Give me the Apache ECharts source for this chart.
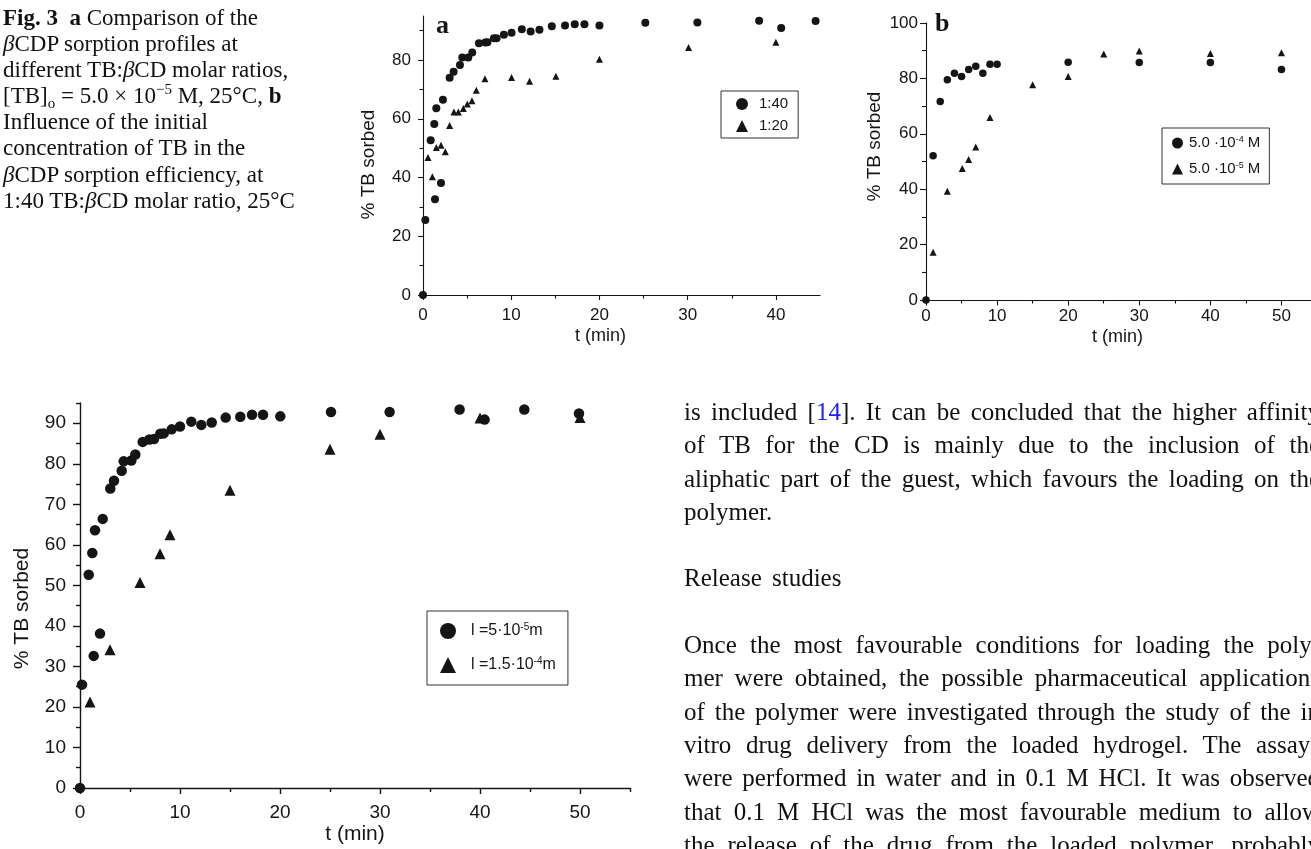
<!DOCTYPE html>
<html>
<head>
<meta charset="utf-8">
<script src="https://cdn.jsdelivr.net/npm/echarts@6/dist/echarts.min.js"></script>
<style>
  html, body { margin:0; padding:0; width:1311px; height:849px; overflow:hidden; background:#fff; }
  #chart { position:absolute; left:0; top:0; width:1311px; height:849px; }
  #caption { position:absolute; left:3px; top:5px; font-family:'Liberation Serif','Times New Roman',serif; font-size:23px; line-height:26.1px; color:#111; white-space:nowrap; }
  #caption .sup, #caption .sub { font-size:15px; line-height:0; position:relative; vertical-align:baseline; }
  #caption .sup { top:-9px; }
  #caption .sub { top:5px; }
  #body { position:absolute; left:684px; top:395px; width:636px; font-family:'Liberation Serif','Times New Roman',serif; font-size:25px; line-height:33.3px; color:#111; }
  #body .j { white-space:nowrap; text-align:justify; text-align-last:justify; }
  #body .l { white-space:nowrap; }
  .ref { color:#2020ff; }
  b { font-weight:bold; }
</style>
</head>
<body>
<div id="chart"></div>
<div id="caption">
  <div><b>Fig. 3</b>&nbsp; <b>a</b> Comparison of the</div>
  <div><i>β</i>CDP sorption profiles at</div>
  <div>different TB:<i>β</i>CD molar ratios,</div>
  <div>[TB]<span class="sub">o</span> = 5.0 × 10<span class="sup">−5</span> M, 25°C, <b>b</b></div>
  <div>Influence of the initial</div>
  <div>concentration of TB in the</div>
  <div><i>β</i>CDP sorption efficiency, at</div>
  <div>1:40 TB:<i>β</i>CD molar ratio, 25°C</div>
</div>
<div id="body">
  <div class="j">is included [<span class="ref">14</span>]. It can be concluded that the higher affinity</div>
  <div class="j">of TB for the CD is mainly due to the inclusion of the</div>
  <div class="j">aliphatic part of the guest, which favours the loading on the</div>
  <div class="l">polymer.</div>
  <div class="l">&nbsp;</div>
  <div class="l" style="word-spacing:4px">Release studies</div>
  <div class="l">&nbsp;</div>
  <div class="j">Once the most favourable conditions for loading the poly-</div>
  <div class="j">mer were obtained, the possible pharmaceutical applications</div>
  <div class="j">of the polymer were investigated through the study of the in</div>
  <div class="j">vitro drug delivery from the loaded hydrogel. The assays</div>
  <div class="j">were performed in water and in 0.1 M HCl. It was observed</div>
  <div class="j">that 0.1 M HCl was the most favourable medium to allow</div>
  <div class="j">the release of the drug from the loaded polymer, probably</div>
</div>
<script>
// ---------------- DATA ----------------
// Panel a : 1:40 (circles) and 1:20 (triangles)
const aCircleT = [0, 0.26, 0.87, 1.28, 1.36, 1.51, 2.04, 2.26, 3.02, 3.47, 4.19, 4.45, 5.13, 5.58, 6.34, 7.06, 7.3, 8.04, 8.34, 9.17, 10.04, 11.2, 12.2, 13.2, 14.6, 16.1, 17.2, 18.3, 20.0, 25.2, 31.1, 38.1, 40.6, 44.5];
const aCircleY = [0, 25.5, 52.7, 58.2, 32.6, 63.6, 38.1, 66.5, 74.0, 76.0, 78.3, 80.9, 80.9, 82.6, 85.7, 86.0, 86.1, 87.4, 87.4, 88.6, 89.3, 90.5, 89.7, 90.3, 91.5, 91.8, 92.2, 92.2, 91.8, 92.7, 92.8, 93.4, 90.9, 93.3];
const aTriT = [0.57, 1.06, 1.51, 2.04, 2.53, 3.02, 3.51, 4.0, 4.57, 5.02, 5.55, 6.04, 7.02, 10.04, 12.08, 15.06, 20.0, 30.1, 40.0];
const aTriY = [46.8, 40.3, 50.2, 51.0, 48.8, 57.7, 62.3, 62.3, 63.5, 65.0, 66.1, 69.7, 73.6, 74.1, 72.8, 74.5, 80.3, 84.3, 86.1];
// Panel b : 5.0e-4 M (circles) and 5.0e-5 M (triangles)
const bCircleT = [0, 1, 2, 3, 4, 5, 6, 7, 8, 9, 10, 20, 30, 40, 50];
const bCircleY = [0, 52.1, 71.7, 79.5, 81.9, 80.7, 83.2, 84.4, 81.9, 85.1, 85.1, 85.8, 85.7, 85.7, 83.2];
const bTriT = [1, 3, 5.1, 6, 7, 9, 15, 20, 25, 30, 40, 50];
const bTriY = [17.2, 39.3, 47.5, 50.7, 55.2, 65.9, 77.7, 80.7, 88.8, 89.9, 89.0, 89.3];
// Bottom panel : l = 5e-5 m (circles) and l = 1.5e-4 m (triangles)
const cCircleT = [0, 0.2, 0.87, 1.23, 1.37, 1.5, 2.0, 2.27, 3.03, 3.4, 4.17, 4.37, 5.13, 5.53, 6.27, 6.93, 7.4, 8.03, 8.37, 9.17, 10.0, 11.13, 12.13, 13.17, 14.57, 16.03, 17.2, 18.3, 20.03, 25.1, 30.96, 37.96, 40.46, 44.43, 49.9];
const cCircleY = [0, 25.5, 52.6, 58.0, 32.6, 63.6, 38.1, 66.4, 73.9, 75.8, 78.3, 80.6, 80.8, 82.3, 85.4, 86.0, 86.1, 87.4, 87.5, 88.5, 89.2, 90.4, 89.6, 90.2, 91.4, 91.6, 92.1, 92.1, 91.7, 92.8, 92.8, 93.4, 90.9, 93.4, 92.4];
const cTriT = [1, 3, 6, 8, 9, 15, 25, 30, 40, 50];
const cTriY = [21.2, 34.1, 50.7, 57.8, 62.5, 73.5, 83.6, 87.3, 91.3, 91.4];

// Series names and legend texts
const namesA = ['1:40', '1:20'];
const namesB = ['5.0 ·10-4 M', '5.0 ·10-5 M'];
const namesC = ['l =5·10-5m', 'l =1.5·10-4m'];
const legendText = {
  '1:40': '1:40',
  '1:20': '1:20',
  '5.0 ·10-4 M': '5.0 ·10{sup|-4} M',
  '5.0 ·10-5 M': '5.0 ·10{sup|-5} M',
  'l =5·10-5m': 'l =5·10{sup|-5}m',
  'l =1.5·10-4m': 'l =1.5·10{sup|-4}m'
};

// Axis ticks / labels
const aXMajor = [0, 10, 20, 30, 40];
const aXMinor = [5, 15, 25, 35];
const aYMajor = [0, 20, 40, 60, 80];
const aYMinor = [10, 30, 50, 70, 90];
const bXMajor = [0, 10, 20, 30, 40, 50];
const bXMinor = [5, 15, 25, 35, 45, 55];
const bYMajor = [0, 20, 40, 60, 80, 100];
const bYMinor = [10, 30, 50, 70, 90];
const cXMajor = [0, 10, 20, 30, 40, 50];
const cXMinor = [5, 15, 25, 35, 45, 55];
const cYMajor = [0, 10, 20, 30, 40, 50, 60, 70, 80, 90];
const cYMinor = [5, 15, 25, 35, 45, 55, 65, 75, 85, 95];

const xName = 't (min)';
const yName = '% TB sorbed';

// ---------------- CHART ----------------
const SANS = "'Liberation Sans', Arial, Helvetica, sans-serif";
const INK = '#151515';
const zip = (t, y) => t.map((v, i) => [v, y[i]]);

function axes(dim, gi, min, max, major, minor, o) {
  const main = {
    type: 'value', gridIndex: gi, min: min, max: max,
    position: dim === 'x' ? 'bottom' : 'left',
    axisLine: { show: true, onZero: false, lineStyle: { color: INK, width: o.lw } },
    axisTick: { show: true, customValues: major, length: o.major, lineStyle: { color: INK, width: o.lw } },
    axisLabel: { show: true, customValues: major, margin: o.margin, color: INK, fontFamily: SANS, fontSize: o.fs },
    splitLine: { show: false },
    name: o.name, nameLocation: 'middle', nameGap: o.gap,
    nameTextStyle: { color: INK, fontFamily: SANS, fontSize: o.nfs, padding: o.pad || 0 }
  };
  const sub = {
    type: 'value', gridIndex: gi, min: min, max: max,
    position: dim === 'x' ? 'bottom' : 'left',
    axisLine: { show: false, onZero: false },
    axisTick: { show: true, customValues: minor, length: o.minor, lineStyle: { color: INK, width: o.lw } },
    axisLabel: { show: false },
    splitLine: { show: false }
  };
  return [main, sub];
}

const xAxes = [].concat(
  axes('x', 0, 0, 45, aXMajor, aXMinor, { lw: 1.1, major: 5, minor: 3.5, margin: 12, fs: 17, name: xName, gap: 32, nfs: 18, pad: [0, 42, 0, 0] }),
  axes('x', 1, 0, 55, bXMajor, bXMinor, { lw: 1.1, major: 5.5, minor: 3.5, margin: 8, fs: 17, name: xName, gap: 28, nfs: 18, pad: [0, 8, 0, 0] }),
  axes('x', 2, 0, 55, cXMajor, cXMinor, { lw: 1.4, major: 6, minor: 4, margin: 15, fs: 19, name: xName, gap: 36, nfs: 21 })
);
const yAxes = [].concat(
  axes('y', 0, 0, 95, aYMajor, aYMinor, { lw: 1.1, major: 5, minor: 3.5, margin: 12, fs: 17, name: yName, gap: 45, nfs: 19, pad: [0, 18, 0, 0] }),
  axes('y', 1, 0, 100, bYMajor, bYMinor, { lw: 1.1, major: 6, minor: 4, margin: 8, fs: 17, name: yName, gap: 42, nfs: 19, pad: [0, 0, 0, 30] }),
  axes('y', 2, 0, 95, cYMajor, cYMinor, { lw: 1.4, major: 7, minor: 4, margin: 14, fs: 19, name: yName, gap: 47, nfs: 21, pad: [0, 26, 0, 0] })
);

function scatter(name, gi, data, symbol, size) {
  return {
    type: 'scatter', name: name, xAxisIndex: gi * 2, yAxisIndex: gi * 2,
    data: data, symbol: symbol, symbolSize: size, clip: false, symbolKeepAspect: true,
    itemStyle: { color: INK, opacity: 1 }, emphasis: { disabled: true }, z: 5
  };
}

const legendBase = {
  orient: 'vertical', selectedMode: false, backgroundColor: '#fff',
  borderColor: '#333', borderWidth: 1, borderRadius: 0, symbolKeepAspect: true,
  formatter: n => legendText[n]
};

const option = {
  backgroundColor: '#fff',
  animation: false,
  grid: [
    { left: 423, top: 16, width: 397, height: 279, containLabel: false, outerBoundsMode: 'none' },
    { left: 926, top: 23, width: 391, height: 277, containLabel: false, outerBoundsMode: 'none' },
    { left: 80, top: 403, width: 550, height: 385, containLabel: false, outerBoundsMode: 'none' }
  ],
  xAxis: xAxes,
  yAxis: yAxes,
  legend: [
    Object.assign({}, legendBase, {
      data: namesA, left: 721, top: 91, padding: [5, 10, 4, 15], itemWidth: 12, itemHeight: 12, itemGap: 6,
      textStyle: { color: INK, fontFamily: SANS, fontSize: 15, lineHeight: 16, padding: [0, 0, 0, 6] }
    }),
    Object.assign({}, legendBase, {
      data: namesB, left: 1162, top: 128, padding: [7, 9, 7, 10], itemWidth: 11, itemHeight: 11, itemGap: 10,
      textStyle: { color: INK, fontFamily: SANS, fontSize: 15, lineHeight: 16, padding: [0, 0, 0, 1],
        rich: { sup: { fontSize: 9, lineHeight: 16, verticalAlign: 'top', fontFamily: SANS, color: INK } } }
    }),
    Object.assign({}, legendBase, {
      data: namesC, left: 427, top: 611, padding: [11, 12, 11, 13], itemWidth: 16, itemHeight: 16, itemGap: 16,
      textStyle: { color: INK, fontFamily: SANS, fontSize: 16, lineHeight: 18, padding: [0, 0, 0, 10],
        rich: { sup: { fontSize: 10, lineHeight: 18, verticalAlign: 'top', fontFamily: SANS, color: INK } } }
    })
  ],
  graphic: [
    { type: 'text', left: 436, top: 13, style: { text: 'a', font: "bold 26px 'Liberation Serif', serif", fill: INK } },
    { type: 'text', left: 935, top: 11, style: { text: 'b', font: "bold 26px 'Liberation Serif', serif", fill: INK } }
  ],
  series: [
    scatter(namesA[0], 0, zip(aCircleT, aCircleY), 'circle', 8),
    scatter(namesA[1], 0, zip(aTriT, aTriY), 'triangle', 7),
    scatter(namesB[0], 1, zip(bCircleT, bCircleY), 'circle', 7.5),
    scatter(namesB[1], 1, zip(bTriT, bTriY), 'triangle', 7),
    scatter(namesC[0], 2, zip(cCircleT, cCircleY), 'circle', 10.5),
    scatter(namesC[1], 2, zip(cTriT, cTriY), 'triangle', 11)
  ]
};

const chart = echarts.init(document.getElementById('chart'), null, { renderer: 'canvas' });
chart.setOption(option);
</script>
</body>
</html>
